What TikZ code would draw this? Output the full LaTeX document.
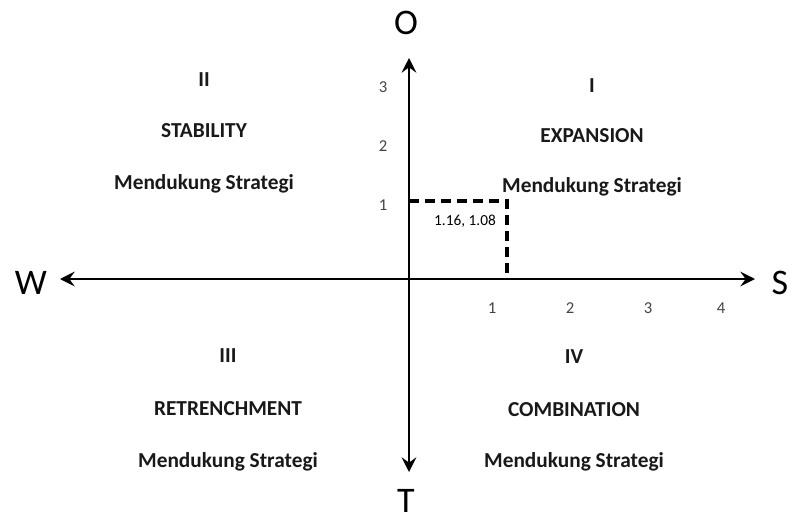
\documentclass[tikz,border=0pt]{standalone}
\usepackage{fontspec}
\setmainfont{Carlito}
\usetikzlibrary{arrows.meta}
\definecolor{tickgray}{HTML}{444444}
\tikzset{
  axisline/.style={line width=2pt,{Stealth[length=11pt,width=11pt,inset=4pt]}-{Stealth[length=11pt,width=11pt,inset=4pt]}},
  dashline/.style={line width=2.4pt,dash pattern=on 7.5pt off 4.5pt},
  bigletter/.style={font=\fontsize{27}{30}\selectfont,inner sep=0pt},
  quadtext/.style={font=\fontsize{16}{19}\selectfont\bfseries,inner sep=0pt,text=black!90},
  ticktext/.style={font=\fontsize{12.5}{14}\selectfont,text=tickgray,inner sep=0pt},
  pointtext/.style={font=\fontsize{11.5}{14}\selectfont,inner sep=0pt}
}
\begin{document}
\begin{tikzpicture}[x=0.75pt,y=-0.75pt]
\useasboundingbox (0,0) rectangle (792,521);
% axes
\coordinate (o) at (409,279);
\coordinate (top) at (409,58);
\coordinate (bot) at (409,472);
\coordinate (lft) at (60,279);
\coordinate (rgt) at (755,279);
\draw[axisline] (bot) -- (top);
\draw[axisline] (lft) -- (rgt);
% axis letters
\node[bigletter] (O) at (406,23) {O};
\node[bigletter] (T) at (406,501) {T};
\node[bigletter] (W) at (31,283) {W};
\node[bigletter] (S) at (780,283) {S};
% ticks
\node[ticktext] (y3) at (383,87) {3};
\node[ticktext] (y2) at (383,146) {2};
\node[ticktext] (y1) at (383,205) {1};
\node[ticktext] (x1) at (492,308) {1};
\node[ticktext] (x2) at (570,308) {2};
\node[ticktext] (x3) at (648,308) {3};
\node[ticktext] (x4) at (721,308) {4};
% point
\coordinate (pt) at (507,201);
\coordinate (pty) at (o |- pt);
\coordinate (ptx) at (o -| pt);
\draw[dashline] (pty) -| (ptx);
\node[pointtext] (ptlabel) at (465,221) {1.16, 1.08};
% quadrant I
\node[quadtext] (q1n) at (592,86) {I};
\node[quadtext] (q1t) at (592,136) {EXPANSION};
\node[quadtext] (q1s) at (592,187) {Mendukung Strategi};
% quadrant II
\node[quadtext] (q2n) at (204,80) {II};
\node[quadtext] (q2t) at (204,131) {STABILITY};
\node[quadtext] (q2s) at (204,184) {Mendukung Strategi};
% quadrant III
\node[quadtext] (q3n) at (228,356) {III};
\node[quadtext] (q3t) at (228,409) {RETRENCHMENT};
\node[quadtext] (q3s) at (228,462) {Mendukung Strategi};
% quadrant IV
\node[quadtext] (q4n) at (574,357) {IV};
\node[quadtext] (q4t) at (574,410) {COMBINATION};
\node[quadtext] (q4s) at (574,462) {Mendukung Strategi};
\end{tikzpicture}
\end{document}
